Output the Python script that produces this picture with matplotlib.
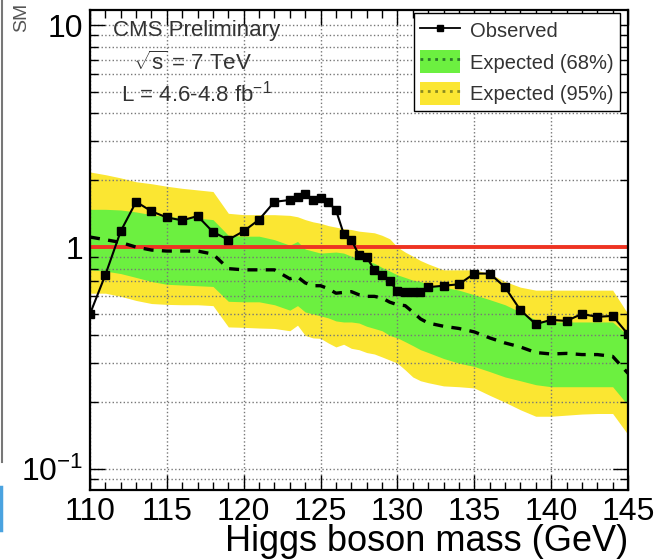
import numpy as np
import matplotlib
matplotlib.use("Agg")
import matplotlib.pyplot as plt
from matplotlib.lines import Line2D
from matplotlib.patches import Patch
from matplotlib.ticker import FixedLocator, NullFormatter

plt.rcParams['font.family'] = ['Liberation Sans', 'DejaVu Sans']
plt.rcParams['mathtext.fontset'] = 'custom'
plt.rcParams['mathtext.rm'] = 'Liberation Sans'
plt.rcParams['mathtext.it'] = 'Liberation Sans'

# --- данные ---
mass = [110, 111, 112, 113, 114, 115, 116, 117, 118, 119, 120, 121, 122, 123, 123.5,
        124, 124.5, 125, 125.5, 126, 126.5, 127, 127.5, 128, 128.5, 129, 129.5, 130,
        130.5, 131, 131.5, 132, 133, 134, 135, 136, 137, 138, 139, 140, 141, 142, 143,
        144, 145]

observed = [0.50, 0.75, 1.18, 1.60, 1.45, 1.36, 1.32, 1.38, 1.17, 1.08, 1.18, 1.33, 1.60,
            1.63, 1.69, 1.74, 1.63, 1.66, 1.59, 1.47, 1.15, 1.08, 0.92, 0.90, 0.79, 0.75,
            0.70, 0.635, 0.63, 0.63, 0.63, 0.66, 0.67, 0.68, 0.76, 0.76, 0.66, 0.52, 0.45,
            0.47, 0.465, 0.50, 0.485, 0.49, 0.405]

expected = [1.11, 1.08, 1.05, 1.00, 0.97, 0.96, 0.96, 0.96, 0.93, 0.80, 0.79, 0.79, 0.79,
            0.72, 0.735, 0.69, 0.67, 0.67, 0.65, 0.62, 0.625, 0.63, 0.61, 0.60, 0.60, 0.59,
            0.565, 0.55, 0.545, 0.51, 0.475, 0.455, 0.44, 0.43, 0.415, 0.39, 0.37, 0.355,
            0.335, 0.33, 0.332, 0.328, 0.328, 0.322, 0.27]

band68_hi = [1.48, 1.48, 1.47, 1.44, 1.40, 1.37, 1.36, 1.35, 1.33, 1.13, 1.12, 1.12, 1.08,
             1.02, 1.06, 0.98, 0.96, 0.94, 0.945, 0.95, 0.94, 0.91, 0.89, 0.87, 0.845, 0.81,
             0.78, 0.75, 0.73, 0.71, 0.70, 0.68, 0.66, 0.64, 0.61, 0.58, 0.55, 0.51, 0.47,
             0.46, 0.46, 0.46, 0.46, 0.46, 0.40]

band68_lo = [0.79, 0.78, 0.76, 0.73, 0.70, 0.68, 0.675, 0.67, 0.665, 0.57, 0.567, 0.567, 0.55,
             0.52, 0.545, 0.51, 0.50, 0.49, 0.48, 0.465, 0.46, 0.46, 0.455, 0.44, 0.43, 0.42,
             0.40, 0.39, 0.375, 0.36, 0.345, 0.335, 0.315, 0.30, 0.29, 0.275, 0.26, 0.25,
             0.24, 0.235, 0.235, 0.235, 0.235, 0.235, 0.194]

band95_hi = [2.18, 2.12, 2.05, 1.97, 1.93, 1.88, 1.84, 1.81, 1.78, 1.42, 1.40, 1.40, 1.40,
             1.39, 1.37, 1.33, 1.30, 1.28, 1.25, 1.23, 1.21, 1.20, 1.18, 1.17, 1.16, 1.13,
             1.09, 1.00, 0.95, 0.91, 0.87, 0.84, 0.79, 0.79, 0.79, 0.76, 0.70, 0.66, 0.64,
             0.64, 0.64, 0.64, 0.64, 0.64, 0.50]

band95_lo = [0.62, 0.62, 0.60, 0.575, 0.557, 0.552, 0.55, 0.55, 0.545, 0.437, 0.435, 0.432,
             0.43, 0.42, 0.445, 0.40, 0.39, 0.388, 0.37, 0.355, 0.365, 0.35, 0.345, 0.335,
             0.33, 0.32, 0.31, 0.30, 0.28, 0.26, 0.25, 0.245, 0.237, 0.235, 0.232, 0.215,
             0.20, 0.185, 0.173, 0.173, 0.175, 0.177, 0.178, 0.178, 0.143]

x_ticks = [110, 115, 120, 125, 130, 135, 140, 145]
y_ticks = [0.1, 1, 10]
y_tick_labels = ['10$^{-1}$', '1', '10']

YELLOW = '#FBE632'
GREEN = '#6CF040'
TEXT = '#333333'

fig = plt.figure(figsize=(6.58, 5.6), dpi=100)
ax = fig.add_axes([90 / 658, 70 / 560, 538 / 658, 480 / 560])

ax.fill_between(mass, band95_lo, band95_hi, color=YELLOW, lw=0, zorder=1)
ax.fill_between(mass, band68_lo, band68_hi, color=GREEN, lw=0, zorder=1.5)
ax.axhline(1, color='#EE3322', lw=2.8, zorder=3)
ax.plot(mass, expected, color='black', ls=(0, (3, 2.5)), lw=2.4, zorder=4)
ax.plot(mass, observed, color='black', lw=1.5, marker='s', ms=5.5, zorder=5)

ax.set_yscale('log')
ax.set_xlim(110, 145)
ax.set_ylim(0.0805, 11.7)

ax.set_xticks(x_ticks)
ax.xaxis.set_minor_locator(FixedLocator(np.arange(110, 146, 1)))
ax.set_yticks(y_ticks)
ax.set_yticklabels(y_tick_labels)
ax.yaxis.set_minor_formatter(NullFormatter())

ax.tick_params(which='both', direction='in', top=True, right=True, width=1,
               labelsize=23, colors='black')
ax.tick_params(which='major', length=11, pad=5)
ax.tick_params(which='minor', length=6)

ax.set_axisbelow(False)
ax.grid(True, which='major', axis='x', color='#777777', ls=':', lw=1.0, zorder=2.5)
ax.grid(True, which='both', axis='y', color='#777777', ls=':', lw=1.0, zorder=2.5)

for s in ax.spines.values():
    s.set_linewidth(1.6)
    s.set_zorder(6)

ax.set_xlabel('Higgs boson mass (GeV)', fontsize=26, loc='right', labelpad=-2)

ax.text(0.199, 0.958, 'CMS Preliminary', transform=ax.transAxes, fontsize=16,
        ha='center', va='center', color=TEXT)
ax.text(0.19, 0.889, r'$\sqrt{s}$ = 7 TeV', transform=ax.transAxes, fontsize=16,
        ha='center', va='center', color=TEXT)
ax.text(0.197, 0.826, 'L = 4.6-4.8 fb$^{-1}$', transform=ax.transAxes, fontsize=16,
        ha='center', va='center', color=TEXT)

handles = [
    Line2D([], [], color='black', lw=1.3, marker='s', ms=4.5),
    (Patch(facecolor=GREEN, lw=0), Line2D([], [], color='#2a7a2a', ls=':', lw=2)),
    (Patch(facecolor=YELLOW, lw=0), Line2D([], [], color='#8a8a20', ls=':', lw=2)),
]
labels = ['Observed', 'Expected (68%)', 'Expected (95%)']
leg = ax.legend(handles, labels, loc='upper right', bbox_to_anchor=(0.985, 0.994),
                fontsize=14.5, frameon=True, fancybox=False, edgecolor='black',
                framealpha=1, borderpad=0.3, handlelength=2.0, handleheight=1.4,
                labelspacing=0.4, handletextpad=0.5, borderaxespad=0)
leg.get_frame().set_linewidth(1.0)
leg.set_zorder(10)
for t in leg.get_texts():
    t.set_color(TEXT)

# обрезанная подпись оси Y и края скриншота
fig.text(22 / 658, 1 - 3 / 560, 'SM', rotation=90, fontsize=14, ha='center',
         va='top', color='#555555')
fig.add_artist(Line2D([1.5 / 658, 1.5 / 658], [1 - 462 / 560, 1], color='#777777', lw=1.5))
fig.add_artist(Line2D([1 / 658, 1 / 658], [1 - 530 / 560, 1 - 487 / 560], color='#4aa3e0', lw=2.5))

fig.savefig('out.png', dpi=100)
